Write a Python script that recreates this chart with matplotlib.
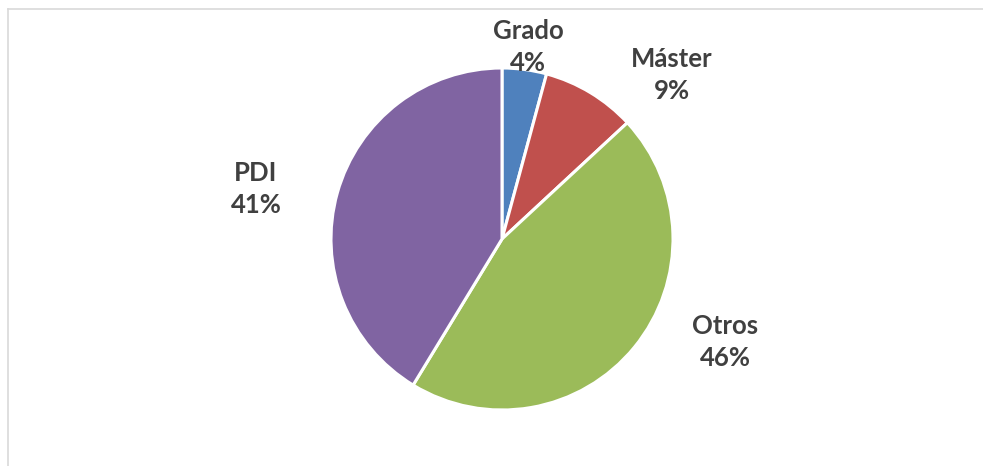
import matplotlib
matplotlib.use("Agg")
import matplotlib.pyplot as plt
from matplotlib.lines import Line2D

categories = ["Grado", "Máster", "Otros", "PDI"]
values = [4.2, 8.9, 45.6, 41.3]
pct_labels = ["4%", "9%", "46%", "41%"]
colors = ["#4F81BD", "#C0504D", "#9BBB59", "#8064A2"]
# label centers in pie-radius units (x right, y up)
label_pos = [(0.152, 1.12), (0.994, 0.96), (1.304, -0.60), (-1.439, 0.29)]

W, H = 983, 466
fig = plt.figure(figsize=(W / 100, H / 100), dpi=100)
fig.patch.set_facecolor("white")

cx, cy, r = 502, 466 - 239, 171
ax = fig.add_axes([(cx - r) / W, (cy - r) / H, 2 * r / W, 2 * r / H])
ax.pie(values, colors=colors, startangle=90, counterclock=False,
       radius=1, wedgeprops=dict(edgecolor="white", linewidth=2.2))
ax.set_xlim(-1, 1)
ax.set_ylim(-1, 1)
ax.set_aspect("equal")
ax.axis("off")

for cat, pct, (x, y) in zip(categories, pct_labels, label_pos):
    ax.text(x, y, f"{cat}\n{pct}", ha="center", va="center", fontsize=18.5,
            fontweight="bold", family="Lato", color="#404040",
            linespacing=1.4, clip_on=False)

# chart area frame (top and left visible)
fig.add_artist(Line2D([7.5 / W, 1.0], [1 - 8.5 / H, 1 - 8.5 / H],
                      transform=fig.transFigure, color="#D9D9D9", lw=1.2))
fig.add_artist(Line2D([7.5 / W, 7.5 / W], [0, 1 - 8.5 / H],
                      transform=fig.transFigure, color="#D9D9D9", lw=1.2))

fig.savefig("out.png", dpi=100, facecolor="white")
